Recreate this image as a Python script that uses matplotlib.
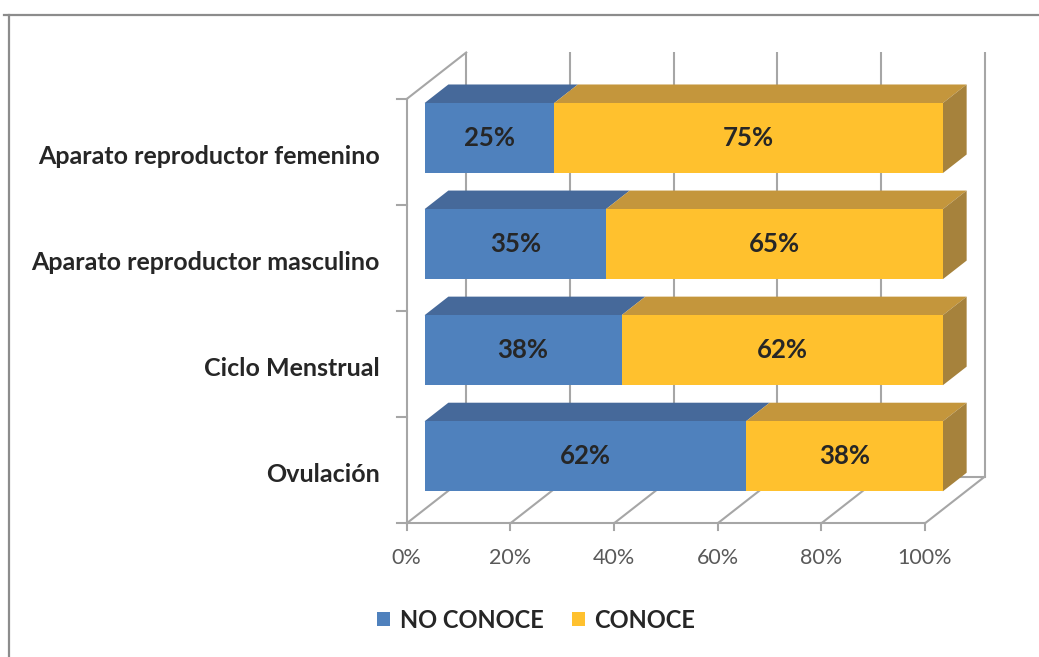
import matplotlib
matplotlib.use("Agg")
import matplotlib.pyplot as plt
from matplotlib.patches import Polygon, Patch
from matplotlib.lines import Line2D

# Survey results: share of respondents who do / do not know each topic (%)
categories = ["Ovulación", "Ciclo Menstrual",
              "Aparato reproductor masculino", "Aparato reproductor femenino"]
no_conoce = [62, 38, 35, 25]
conoce = [38, 62, 65, 75]
series_names = ["NO CONOCE", "CONOCE"]
x_ticks = [0, 20, 40, 60, 80, 100]
x_tick_labels = ["0%", "20%", "40%", "60%", "80%", "100%"]

plt.rcParams["font.family"] = ["Lato", "DejaVu Sans"]

W, H = 1039, 657
fig = plt.figure(figsize=(W / 100, H / 100), dpi=100)
fig.patch.set_facecolor("white")
ax = fig.add_axes([0, 0, 1, 1])
ax.axis("off")

# Front plane: 0% at px 406.7, 100% at px 925; categories span px 523.3 -> 99
px_per_pct = (925 - 406.7) / 100
px_per_cat = (523.3 - 99) / 4
ax.set_xlim(-406.7 / px_per_pct, (W - 406.7) / px_per_pct)
ax.set_ylim(-(H - 523.3) / px_per_cat, 523.3 / px_per_cat)

# Oblique depth direction (one full depth unit), in data units
DX = 59.5 / px_per_pct
DY = 46.5 / px_per_cat


def proj(x, y, z):
    return (x + z * DX, y + z * DY)


grid_c = "#a6a6a6"
lw = 1.5
n = len(categories)

# Back wall vertical gridlines
for t in x_ticks:
    p0, p1 = proj(t, 0, 1), proj(t, n, 1)
    ax.plot([p0[0], p1[0]], [p0[1], p1[1]], color=grid_c, lw=lw, zorder=1,
            solid_capstyle="butt")
# Floor depth lines and back edge
for t in x_ticks:
    p0, p1 = proj(t, 0, 0), proj(t, 0, 1)
    ax.plot([p0[0], p1[0]], [p0[1], p1[1]], color=grid_c, lw=lw, zorder=1)
p0, p1 = proj(0, 0, 1), proj(100, 0, 1)
ax.plot([p0[0], p1[0]], [p0[1], p1[1]], color=grid_c, lw=lw, zorder=1)
# Left wall top edge
p0, p1 = proj(0, n, 0), proj(0, n, 1)
ax.plot([p0[0], p1[0]], [p0[1], p1[1]], color=grid_c, lw=lw, zorder=1)

# Front axes lines with ticks
ax.plot([0, 100], [0, 0], color=grid_c, lw=lw, zorder=2)
ax.plot([0, 0], [0, n], color=grid_c, lw=lw, zorder=2)
tick_down = 7 / px_per_cat
tick_left = 10 / px_per_pct
for t in x_ticks:
    ax.plot([t, t], [0, -tick_down], color=grid_c, lw=lw, zorder=2)
for k in range(n + 1):
    ax.plot([0, -tick_left], [k, k], color=grid_c, lw=lw, zorder=2)

# 3D stacked bars
z0, z1 = 0.30, 0.70
half_h = 0.33
faces = {
    "NO CONOCE": ("#4f81bd", "#46699a", "#3d5c86"),
    "CONOCE": ("#ffc12e", "#c4963c", "#a6823c"),
}
for i, cat in enumerate(categories):
    yc = i + 0.5
    lo, hi = yc - half_h, yc + half_h
    start = 0
    segs = [(series_names[0], no_conoce[i]), (series_names[1], conoce[i])]
    for j, (name, val) in enumerate(segs):
        a, b = start, start + val
        front_c, top_c, side_c = faces[name]
        front = [proj(a, lo, z0), proj(b, lo, z0), proj(b, hi, z0), proj(a, hi, z0)]
        top = [proj(a, hi, z0), proj(b, hi, z0), proj(b, hi, z1), proj(a, hi, z1)]
        ax.add_patch(Polygon(top, closed=True, facecolor=top_c, edgecolor="none", zorder=3))
        ax.add_patch(Polygon(front, closed=True, facecolor=front_c, edgecolor="none", zorder=4))
        if j == len(segs) - 1:
            side = [proj(b, lo, z0), proj(b, hi, z0), proj(b, hi, z1), proj(b, lo, z1)]
            ax.add_patch(Polygon(side, closed=True, facecolor=side_c, edgecolor="none", zorder=3))
        cx, cy = proj((a + b) / 2, yc, z0)
        ax.text(cx, cy, f"{val}%", ha="center", va="center", fontsize=18.5,
                fontweight="bold", color="#262626", zorder=5)
        start = b

# Category labels
for i, cat in enumerate(categories):
    ax.text(-26.7 / px_per_pct, i + 0.5 - 4 / px_per_cat, cat, ha="right",
            va="center", fontsize=18, fontweight="bold", color="#262626")

# Value axis tick labels
for t, lab in zip(x_ticks, x_tick_labels):
    ax.text(t, -35 / px_per_cat, lab, ha="center", va="center",
            fontsize=15.5, color="#595959")

# Legend
handles = [Patch(facecolor=faces[s][0], edgecolor="none") for s in series_names]
leg = fig.legend(handles, series_names, loc="center", ncol=2, frameon=False,
                 bbox_to_anchor=(536 / W, 1 - 620 / H), handlelength=0.55,
                 handleheight=0.55, handletextpad=0.4, columnspacing=1.2,
                 prop={"size": 17, "weight": "bold"})
for txt in leg.get_texts():
    txt.set_color("#262626")

# Chart area border (top and left edges)
fig.add_artist(Line2D([4 / W, 1], [1 - 15 / H, 1 - 15 / H], color="#8c8c8c", lw=1.6))
fig.add_artist(Line2D([9 / W, 9 / W], [0, 1 - 15 / H], color="#8c8c8c", lw=1.6))

fig.savefig("out.png", dpi=100, facecolor="white")
